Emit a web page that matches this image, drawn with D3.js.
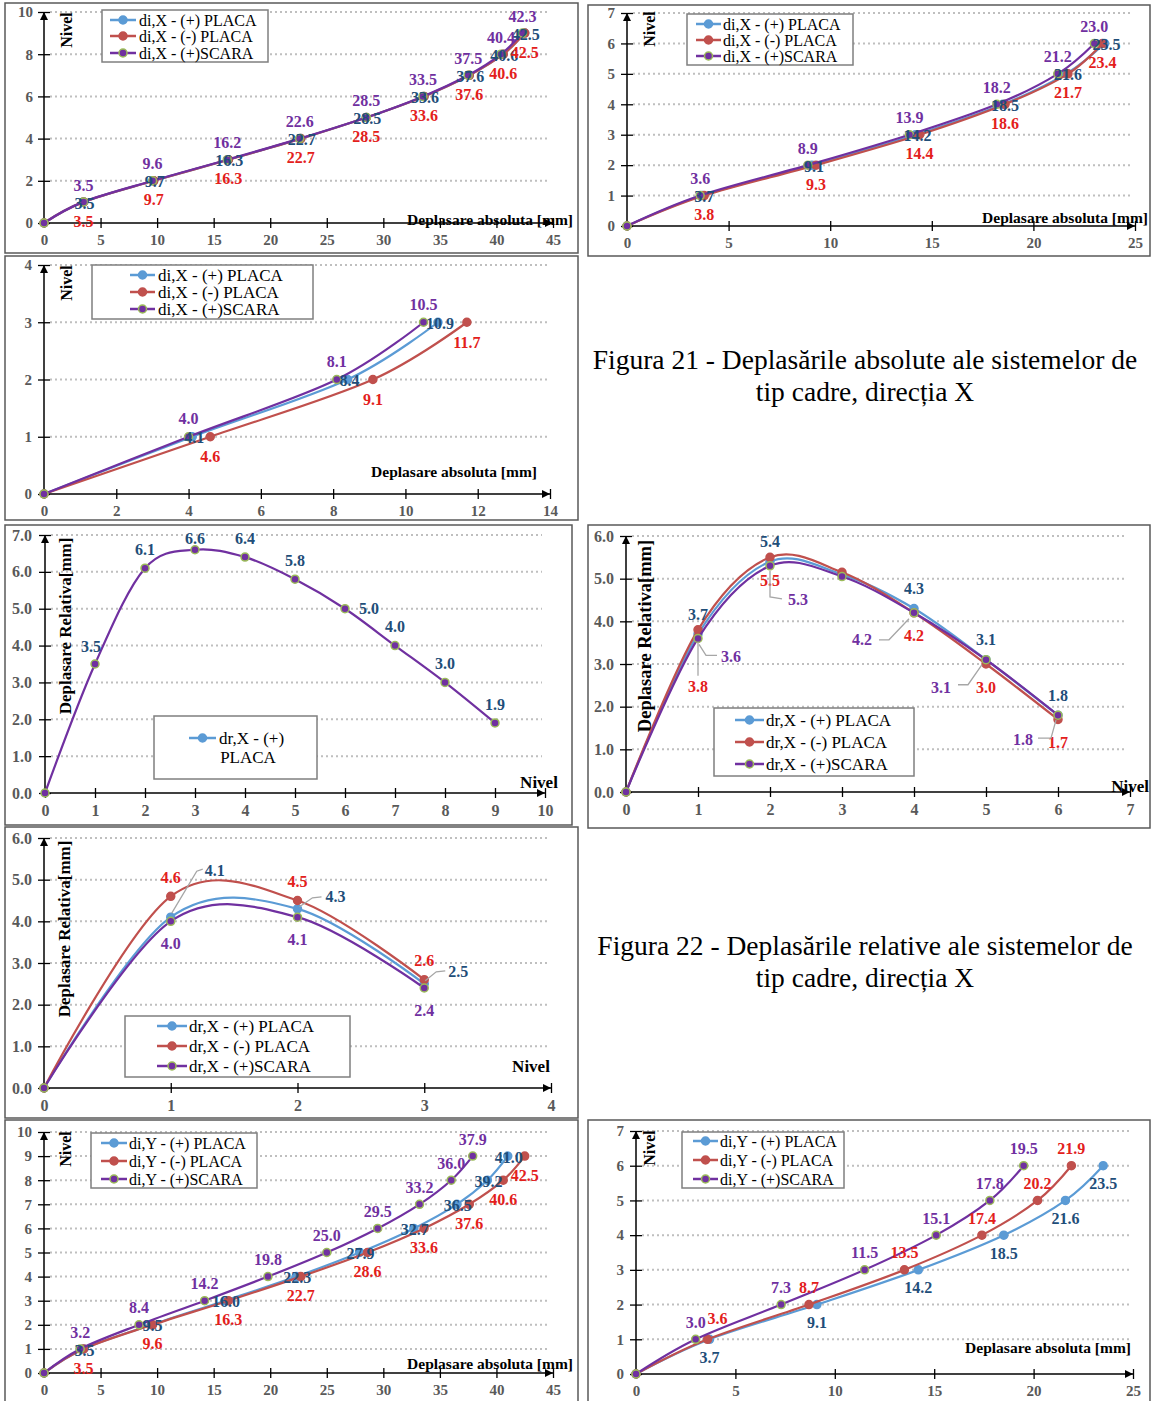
<!DOCTYPE html>
<html>
<head>
<meta charset="utf-8">
<script src="https://cdn.jsdelivr.net/npm/d3@7"></script>
<style>
  body { margin: 0; background: #fff; }
  svg text { font-family: 'Liberation Serif', 'Times New Roman', serif; }
</style>
</head>
<body>
<svg id="chart" width="1151" height="1401"></svg>
<script>
// ---------- data ----------
const levels10 = [0, 1, 2, 3, 4, 5, 6, 7, 8, 9];
const levels6 = [0, 1, 2, 3, 4, 5, 6];
const levels3 = [0, 1, 2, 3];

const legendDiX = ['di,X - (+) PLACA', 'di,X - (-) PLACA', 'di,X - (+)SCARA'];
const legendDrX = ['dr,X - (+) PLACA', 'dr,X - (-) PLACA', 'dr,X - (+)SCARA'];
const legendDiY = ['di,Y - (+) PLACA', 'di,Y - (-) PLACA', 'di,Y - (+)SCARA'];
const legendDrX9 = ['dr,X - (+)', 'PLACA'];

// deplasari absolute, directia X
const diX10Plus = [0, 3.5, 9.7, 16.3, 22.7, 28.5, 33.6, 37.6, 40.6, 42.5];
const diX10Minus = [0, 3.5, 9.7, 16.3, 22.7, 28.5, 33.6, 37.6, 40.6, 42.5];
const diX10Scara = [0, 3.5, 9.6, 16.2, 22.6, 28.5, 33.5, 37.5, 40.4, 42.3];

const diX6Plus = [0, 3.7, 9.1, 14.2, 18.5, 21.6, 23.5];
const diX6Minus = [0, 3.8, 9.3, 14.4, 18.6, 21.7, 23.4];
const diX6Scara = [0, 3.6, 8.9, 13.9, 18.2, 21.2, 23.0];

const diX3Plus = [0, 4.1, 8.4, 10.9];
const diX3Minus = [0, 4.6, 9.1, 11.7];
const diX3Scara = [0, 4.0, 8.1, 10.5];

// deplasari relative, directia X
const drX9Plus = [0, 3.5, 6.1, 6.6, 6.4, 5.8, 5.0, 4.0, 3.0, 1.9];

const drX6Plus = [0, 3.7, 5.4, 5.1, 4.3, 3.1, 1.8];
const drX6Minus = [0, 3.8, 5.5, 5.15, 4.2, 3.0, 1.7];
const drX6Scara = [0, 3.6, 5.3, 5.05, 4.2, 3.1, 1.8];

const drX3Plus = [0, 4.1, 4.3, 2.5];
const drX3Minus = [0, 4.6, 4.5, 2.6];
const drX3Scara = [0, 4.0, 4.1, 2.4];

// deplasari absolute, directia Y
const diY10Plus = [0, 3.5, 9.5, 16.0, 22.3, 27.9, 32.7, 36.5, 39.2, 41.0];
const diY10Minus = [0, 3.5, 9.6, 16.3, 22.7, 28.6, 33.6, 37.6, 40.6, 42.5];
const diY10Scara = [0, 3.2, 8.4, 14.2, 19.8, 25.0, 29.5, 33.2, 36.0, 37.9];

const diY6Plus = [0, 3.7, 9.1, 14.2, 18.5, 21.6, 23.5];
const diY6Minus = [0, 3.6, 8.7, 13.5, 17.4, 20.2, 21.9];
const diY6Scara = [0, 3.0, 7.3, 11.5, 15.1, 17.8, 19.5];

const caption21 = ['Figura 21 - Deplasările absolute ale sistemelor de', 'tip cadre, direcția X'];
const caption22 = ['Figura 22 - Deplasările relative ale sistemelor de', 'tip cadre, direcția X'];

const titleAbs = 'Deplasare absoluta [mm]';
const titleRel = 'Deplasare Relativa[mm]';
const titleNivel = 'Nivel';

// ---------- styles ----------
const STYLE = {
  plus:  { line: '#5B9BD5', fill: '#5B9BD5', ring: '#5B9BD5', text: '#1F4E79' },
  minus: { line: '#C0504D', fill: '#C0504D', ring: '#C0504D', text: '#E3201B' },
  scara: { line: '#7030A0', fill: '#7030A0', ring: '#9BBB59', text: '#7030A0' }
};

const svg = d3.select('#chart');
const defs = svg.append('defs');
defs.append('marker')
  .attr('id', 'arrow')
  .attr('viewBox', '0 0 10 10')
  .attr('refX', 10).attr('refY', 5)
  .attr('markerWidth', 11).attr('markerHeight', 8)
  .attr('markerUnits', 'userSpaceOnUse')
  .attr('orient', 'auto')
  .append('path').attr('d', 'M0,0L10,5L0,10Z').attr('fill', '#000');

function drawPanel(p) {
  const g = svg.append('g');

  // frame
  g.append('rect')
    .attr('x', p.box[0]).attr('y', p.box[1])
    .attr('width', p.box[2]).attr('height', p.box[3])
    .attr('fill', 'none').attr('stroke', '#595959').attr('stroke-width', 1.5);

  const x = d3.scaleLinear().domain(p.x.domain).range(p.x.range);
  const y = d3.scaleLinear().domain(p.y.domain).range(p.y.range);
  const xTicks = d3.range(p.x.domain[0], p.x.domain[1] + p.x.step / 2, p.x.step);
  const yTicks = d3.range(p.y.domain[0], p.y.domain[1] + p.y.step / 2, p.y.step);

  // dotted grid
  g.append('g').selectAll('line')
    .data(yTicks.filter(d => d > 0))
    .join('line')
    .attr('x1', x(0) + 6).attr('x2', p.x.range[1] - 3)
    .attr('y1', d => y(d)).attr('y2', d => y(d))
    .attr('stroke', '#BFBFBF').attr('stroke-width', 2)
    .attr('stroke-dasharray', '2,3');

  // axes
  const xAxis = d3.axisBottom(x).tickValues(xTicks)
    .tickFormat(p.x.format || d3.format('d'))
    .tickSize(0).tickPadding(p.x.pad);
  const gx = g.append('g').attr('transform', 'translate(0,' + y(0) + ')').call(xAxis);
  const yAxis = d3.axisLeft(y).tickValues(yTicks)
    .tickFormat(p.y.format || d3.format('d'))
    .tickSize(0).tickPadding(p.y.pad);
  const gy = g.append('g').attr('transform', 'translate(' + x(0) + ',0)').call(yAxis);

  [gx, gy].forEach(function(a) {
    a.select('.domain').remove();
    a.selectAll('text')
      .style('font-family', "'Liberation Serif', serif")
      .style('font-size', p.tickSize + 'px')
      .style('font-weight', 'bold')
      .attr('fill', '#595959');
  });
  gx.selectAll('.tick line').attr('y1', -5).attr('y2', 5).attr('stroke', '#000').attr('stroke-width', 1.3);
  gy.selectAll('.tick line').attr('x1', -6).attr('x2', 6).attr('stroke', '#000').attr('stroke-width', 1.3);

  g.append('line')
    .attr('x1', x(0)).attr('x2', p.x.range[1])
    .attr('y1', y(0)).attr('y2', y(0))
    .attr('stroke', '#000').attr('stroke-width', 1.5)
    .attr('marker-end', 'url(#arrow)');
  g.append('line')
    .attr('x1', x(0)).attr('x2', x(0))
    .attr('y1', y(0)).attr('y2', p.y.range[1])
    .attr('stroke', '#000').attr('stroke-width', 1.5)
    .attr('marker-end', 'url(#arrow)');

  // axis titles
  g.append('text')
    .attr('transform', 'translate(' + p.yTitle.x + ',' + p.yTitle.y + ') rotate(-90)')
    .attr('text-anchor', 'middle').attr('dy', '0.35em')
    .style('font-size', p.yTitle.size + 'px').style('font-weight', 'bold')
    .text(p.yTitle.text);
  g.append('text')
    .attr('x', p.xTitle.x).attr('y', p.xTitle.y)
    .attr('text-anchor', p.xTitle.anchor || 'end').attr('dy', '0.35em')
    .style('font-size', p.xTitle.size + 'px').style('font-weight', 'bold')
    .text(p.xTitle.text);

  // legend
  const L = p.legend;
  const lg = g.append('g');
  lg.append('rect')
    .attr('x', L.box[0]).attr('y', L.box[1]).attr('width', L.box[2]).attr('height', L.box[3])
    .attr('fill', '#fff').attr('stroke', '#7F7F7F').attr('stroke-width', 1.5);
  L.items.forEach(function(it) {
    const s = STYLE[it.key];
    lg.append('line')
      .attr('x1', L.line[0]).attr('x2', L.line[1]).attr('y1', it.y).attr('y2', it.y)
      .attr('stroke', s.line).attr('stroke-width', 2.5);
    lg.append('circle')
      .attr('cx', (L.line[0] + L.line[1]) / 2).attr('cy', it.y).attr('r', 4)
      .attr('fill', s.fill).attr('stroke', s.ring).attr('stroke-width', 1.5);
    lg.append('text')
      .attr('x', L.textX).attr('y', it.y).attr('dy', '0.35em')
      .style('font-size', L.size + 'px')
      .text(it.text);
  });
  (L.extra || []).forEach(function(t) {
    lg.append('text')
      .attr('x', t.x).attr('y', t.y).attr('dy', '0.35em')
      .attr('text-anchor', 'middle')
      .style('font-size', L.size + 'px')
      .text(t.text);
  });

  // series
  const px = function(v, lev) { return p.mode === 'di' ? x(v) : x(lev); };
  const py = function(v, lev) { return p.mode === 'di' ? y(lev) : y(v); };

  // excel-like smoothing
  const line = d3.line()
    .x(d => px(d.v, d.lev))
    .y(d => py(d.v, d.lev))
    .curve(d3.curveCardinal.tension(0));

  p.series.forEach(function(se) {
    const s = STYLE[se.key];
    const pts = se.values.map((v, i) => ({ v: v, lev: p.levels[i], i: i }));
    g.append('path').datum(pts)
      .attr('d', line)
      .attr('fill', 'none').attr('stroke', s.line).attr('stroke-width', 2.2);
    g.append('g').selectAll('circle').data(pts).join('circle')
      .attr('cx', d => px(d.v, d.lev)).attr('cy', d => py(d.v, d.lev))
      .attr('r', 4)
      .attr('fill', s.fill).attr('stroke', s.ring).attr('stroke-width', 1.5);
  });

  // data labels
  p.series.forEach(function(se) {
    const color = STYLE[se.labelKey || se.key].text;
    const off = p.labels[se.key];
    se.values.forEach(function(v, i) {
      if (i === 0 || (p.skip || []).indexOf(i) >= 0) return;
      const cx = px(v, p.levels[i]);
      const cy = py(v, p.levels[i]);
      const o = (p.over || {})[se.key + '-' + i] || {};
      const dx = o.dx !== undefined ? o.dx : off[0];
      const dy = o.dy !== undefined ? o.dy : off[1];
      if (o.leader) {
        g.append('polyline')
          .attr('points', o.leader.map(q => (cx + q[0]) + ',' + (cy + q[1])).join(' '))
          .attr('fill', 'none').attr('stroke', '#A6A6A6').attr('stroke-width', 1.3);
      }
      g.append('text')
        .attr('x', cx + dx).attr('y', cy + dy).attr('dy', '0.35em')
        .attr('text-anchor', 'middle')
        .style('font-size', p.labelSize + 'px').style('font-weight', 'bold')
        .attr('fill', color)
        .text(d3.format('.1f')(v));
    });
  });
}

const panels = [
  { // di,X - 10 niveluri
    box: [5, 3, 573, 250], mode: 'di', levels: levels10,
    x: { domain: [0, 45], range: [44, 553], step: 5, pad: 11 },
    y: { domain: [0, 10], range: [223, 12], step: 2, pad: 11 },
    tickSize: 15, labelSize: 16,
    series: [{ key: 'plus', values: diX10Plus }, { key: 'minus', values: diX10Minus }, { key: 'scara', values: diX10Scara }],
    labels: { plus: [1, 1], minus: [0, 19], scara: [0, -17] },
    legend: { box: [102, 10, 166, 52], line: [110, 136], textX: 139, size: 16,
      items: [{ key: 'plus', text: legendDiX[0], y: 20 }, { key: 'minus', text: legendDiX[1], y: 36 }, { key: 'scara', text: legendDiX[2], y: 53 }] },
    yTitle: { text: titleNivel, x: 66, y: 30, size: 16 },
    xTitle: { text: titleAbs, x: 573, y: 220, size: 15.5 }
  },
  { // di,X - 6 niveluri
    box: [588, 5, 562, 251], mode: 'di', levels: levels6,
    x: { domain: [0, 25], range: [627, 1135], step: 5, pad: 11 },
    y: { domain: [0, 7], range: [226, 13], step: 1, pad: 12 },
    tickSize: 15, labelSize: 16,
    series: [{ key: 'plus', values: diX6Plus }, { key: 'minus', values: diX6Minus }, { key: 'scara', values: diX6Scara }],
    labels: { plus: [2, 1], minus: [0, 19], scara: [0, -17] },
    legend: { box: [687, 14, 166, 51], line: [696, 721], textX: 723, size: 16,
      items: [{ key: 'plus', text: legendDiX[0], y: 24 }, { key: 'minus', text: legendDiX[1], y: 40 }, { key: 'scara', text: legendDiX[2], y: 56 }] },
    yTitle: { text: titleNivel, x: 649, y: 29, size: 16 },
    xTitle: { text: titleAbs, x: 1148, y: 218, size: 15.5 }
  },
  { // di,X - 3 niveluri
    box: [5, 256, 573, 264], mode: 'di', levels: levels3,
    x: { domain: [0, 14], range: [44, 550], step: 2, pad: 11 },
    y: { domain: [0, 4], range: [494, 265], step: 1, pad: 12 },
    tickSize: 15, labelSize: 16,
    series: [{ key: 'plus', values: diX3Plus }, { key: 'minus', values: diX3Minus }, { key: 'scara', values: diX3Scara }],
    labels: { plus: [2, 1], minus: [0, 20], scara: [0, -18] },
    legend: { box: [92, 265, 221, 54], line: [130, 155], textX: 158, size: 17,
      items: [{ key: 'plus', text: legendDiX[0], y: 275 }, { key: 'minus', text: legendDiX[1], y: 292 }, { key: 'scara', text: legendDiX[2], y: 309 }] },
    yTitle: { text: titleNivel, x: 66, y: 283, size: 16 },
    xTitle: { text: titleAbs, x: 537, y: 472, size: 15.5 }
  },
  { // dr,X - 9 niveluri
    box: [5, 525, 567, 300], mode: 'dr', levels: levels10,
    x: { domain: [0, 10], range: [45, 545], step: 1, pad: 12 },
    y: { domain: [0, 7], range: [793, 535], step: 1, pad: 13, format: d3.format('.1f') },
    tickSize: 16, labelSize: 16,
    series: [{ key: 'scara', values: drX9Plus, labelKey: 'plus' }],
    labels: { scara: [0, -19] },
    over: { 'scara-1': { dx: -4, dy: -18 }, 'scara-3': { dx: 0, dy: -11 }, 'scara-6': { dx: 24, dy: 0 } },
    legend: { box: [154, 716, 163, 63], line: [189, 216], textX: 219, size: 17,
      items: [{ key: 'plus', text: legendDrX9[0], y: 738 }],
      extra: [{ text: legendDrX9[1], x: 248, y: 757 }] },
    yTitle: { text: titleRel, x: 65, y: 626, size: 17 },
    xTitle: { text: titleNivel, x: 539, y: 782, size: 17, anchor: 'middle' }
  },
  { // dr,X - 6 niveluri
    box: [588, 525, 562, 303], mode: 'dr', levels: levels6,
    x: { domain: [0, 7], range: [626, 1130], step: 1, pad: 12 },
    y: { domain: [0, 6], range: [792, 536], step: 1, pad: 12, format: d3.format('.1f') },
    tickSize: 16, labelSize: 16,
    series: [{ key: 'plus', values: drX6Plus }, { key: 'minus', values: drX6Minus }, { key: 'scara', values: drX6Scara }],
    labels: { plus: [0, -20], minus: [0, 23], scara: [0, 22] },
    skip: [3],
    over: {
      'minus-1': { dx: 0, dy: 57, leader: [[0, 12], [0, 46]] },
      'scara-1': { dx: 33, dy: 18, leader: [[1, 6], [8, 17], [19, 17]] },
      'scara-2': { dx: 28, dy: 34, leader: [[0, 5], [0, 31], [12, 33]] },
      'scara-4': { dx: -52, dy: 27, leader: [[-5, 6], [-25, 27], [-35, 27]] },
      'scara-5': { dx: -45, dy: 28, leader: [[-4, 5], [-18, 25], [-28, 25]] },
      'scara-6': { dx: -35, dy: 24, leader: [[-2, 5], [-7, 23], [-20, 23]] }
    },
    legend: { box: [714, 708, 200, 68], line: [735, 764], textX: 766, size: 17,
      items: [{ key: 'plus', text: legendDrX[0], y: 720 }, { key: 'minus', text: legendDrX[1], y: 742 }, { key: 'scara', text: legendDrX[2], y: 764 }] },
    yTitle: { text: titleRel, x: 645, y: 636, size: 18.5 },
    xTitle: { text: titleNivel, x: 1149, y: 786, size: 17 }
  },
  { // dr,X - 3 niveluri
    box: [5, 827, 573, 291], mode: 'dr', levels: levels3,
    x: { domain: [0, 4], range: [44, 551], step: 1, pad: 12 },
    y: { domain: [0, 6], range: [1088, 838], step: 1, pad: 12, format: d3.format('.1f') },
    tickSize: 16, labelSize: 16,
    series: [{ key: 'plus', values: drX3Plus }, { key: 'minus', values: drX3Minus }, { key: 'scara', values: drX3Scara }],
    labels: { plus: [0, -20], minus: [0, -19], scara: [0, 22] },
    over: {
      'plus-1': { dx: 44, dy: -47, leader: [[1, -4], [26, -46], [32, -48]] },
      'plus-2': { dx: 38, dy: -12, leader: [[2, -2], [15, -11], [24, -12]] },
      'plus-3': { dx: 34, dy: -12, leader: [[1, -3], [12, -12], [21, -13]] }
    },
    legend: { box: [125, 1016, 225, 61], line: [157, 187], textX: 189, size: 17,
      items: [{ key: 'plus', text: legendDrX[0], y: 1026 }, { key: 'minus', text: legendDrX[1], y: 1046 }, { key: 'scara', text: legendDrX[2], y: 1066 }] },
    yTitle: { text: titleRel, x: 64, y: 929, size: 17 },
    xTitle: { text: titleNivel, x: 531, y: 1066, size: 17, anchor: 'middle' }
  },
  { // di,Y - 10 niveluri
    box: [5, 1120, 573, 282], mode: 'di', levels: levels10,
    x: { domain: [0, 45], range: [44, 553], step: 5, pad: 11 },
    y: { domain: [0, 10], range: [1373, 1132], step: 1, pad: 12 },
    tickSize: 15, labelSize: 16,
    series: [{ key: 'plus', values: diY10Plus }, { key: 'minus', values: diY10Minus }, { key: 'scara', values: diY10Scara }],
    labels: { plus: [1, 1], minus: [0, 19], scara: [0, -17] },
    legend: { box: [91, 1133, 166, 55], line: [101, 127], textX: 129, size: 16,
      items: [{ key: 'plus', text: legendDiY[0], y: 1143 }, { key: 'minus', text: legendDiY[1], y: 1161 }, { key: 'scara', text: legendDiY[2], y: 1179 }] },
    yTitle: { text: titleNivel, x: 65, y: 1149, size: 16 },
    xTitle: { text: titleAbs, x: 573, y: 1364, size: 15.5 }
  },
  { // di,Y - 6 niveluri
    box: [588, 1120, 562, 282], mode: 'di', levels: levels6,
    x: { domain: [0, 25], range: [636, 1133], step: 5, pad: 11 },
    y: { domain: [0, 7], range: [1374, 1131], step: 1, pad: 12 },
    tickSize: 15, labelSize: 16,
    series: [{ key: 'plus', values: diY6Plus }, { key: 'minus', values: diY6Minus }, { key: 'scara', values: diY6Scara }],
    labels: { plus: [0, 18], minus: [0, -17], scara: [0, -17] },
    over: { 'minus-1': { dx: 10, dy: -21 } },
    legend: { box: [682, 1132, 162, 56], line: [693, 718], textX: 720, size: 16,
      items: [{ key: 'plus', text: legendDiY[0], y: 1141 }, { key: 'minus', text: legendDiY[1], y: 1160 }, { key: 'scara', text: legendDiY[2], y: 1179 }] },
    yTitle: { text: titleNivel, x: 649, y: 1148, size: 16 },
    xTitle: { text: titleAbs, x: 1131, y: 1348, size: 15.5 }
  }
];

panels.forEach(drawPanel);

// captions
function drawCaption(lines, y0) {
  svg.append('g').selectAll('text').data(lines).join('text')
    .attr('x', 865).attr('y', (d, i) => y0 + i * 32)
    .attr('text-anchor', 'middle')
    .style('font-size', '27.5px')
    .attr('fill', '#000')
    .text(d => d);
}
drawCaption(caption21, 369);
drawCaption(caption22, 955);
</script>
</body>
</html>
